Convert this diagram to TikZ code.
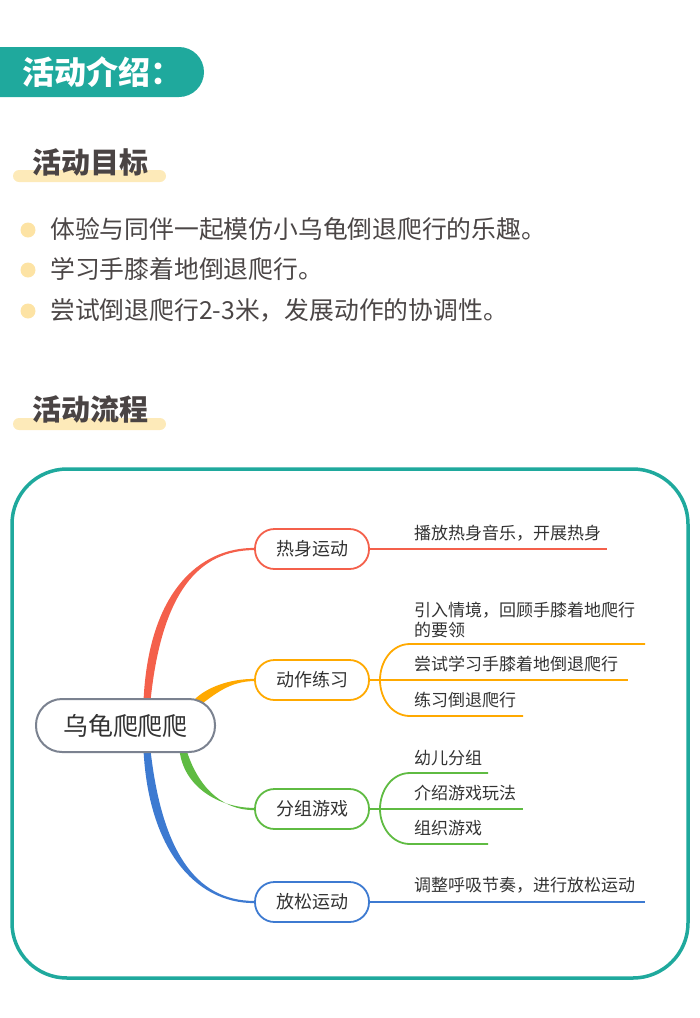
\documentclass[tikz,border=0pt]{standalone}
\usepackage{fontspec}
\setmainfont{Noto Sans CJK SC}
\usetikzlibrary{calc}
\definecolor{tealc}{HTML}{1FA99D}
\definecolor{barc}{HTML}{FDEAB9}
\definecolor{dotc}{HTML}{FDE3A4}
\definecolor{headc}{HTML}{4A4444}
\definecolor{bodyc}{HTML}{4B4646}
\definecolor{txtc}{HTML}{333333}
\definecolor{rootc}{HTML}{7B8290}
\definecolor{cred}{HTML}{F4604B}
\definecolor{corange}{HTML}{FFA900}
\definecolor{cgreen}{HTML}{5FBB42}
\definecolor{cblue}{HTML}{3D7AD1}
\pgfdeclarelayer{bg}
\pgfsetlayers{bg,main}
\tikzset{
  branchbox/.style={draw, line width=1.8pt, rounded corners=19.5pt, minimum width=114pt, minimum height=40pt, fill=white, font=\fontsize{18}{20}\selectfont, text=txtc, inner sep=0pt},
  subtext/.style={anchor=west, inner sep=0pt, font=\fontsize{17}{21}\selectfont, text=txtc, align=left},
  subline/.style={line width=1.8pt},
  bullettext/.style={anchor=west, inner sep=0pt, font=\fontsize{24.8}{26}\selectfont, text=bodyc},
  headtext/.style={anchor=west, inner sep=0pt, font=\fontsize{29}{30}\selectfont\bfseries, text=headc},
}
\begin{document}
\begin{tikzpicture}[x=1pt,y=-1pt]
\useasboundingbox (0,0) rectangle (700,1018);
% title banner
\fill[tealc, rounded corners=25pt] (-40,47) rectangle (204,97);
\node[anchor=west, inner sep=0pt, text=white, font=\fontsize{32}{34}\selectfont\bfseries] (title) at (22,72) {活动介绍：};
% section 1
\fill[barc, rounded corners=6pt] (13,170) rectangle (166,182);
\node[headtext] (h1) at (32,162) {活动目标};
\fill[dotc] (28,230) circle (7.5);
\fill[dotc] (28,270) circle (7.5);
\fill[dotc] (28,311) circle (7.5);
\node[bullettext] (b1) at (50,229) {体验与同伴一起模仿小乌龟倒退爬行的乐趣。};
\node[bullettext] (b2) at (50,269) {学习手膝着地倒退爬行。};
\node[bullettext] (b3) at (50,310) {尝试倒退爬行2-3米，发展动作的协调性。};
% section 2
\fill[barc, rounded corners=6pt] (13,418) rectangle (166,430);
\node[headtext] (h2) at (32,409) {活动流程};
% frame
\draw[tealc, line width=3.5pt, rounded corners=55pt] (12,469) rectangle (688,978);
% nodes
\node[draw=rootc, line width=2pt, rounded corners=26pt, minimum width=179pt, minimum height=53pt, fill=white, inner sep=0pt, font=\fontsize{25}{27}\selectfont, text=txtc] (root) at (125.5,725.5) {乌龟爬爬爬};
\node[branchbox, draw=cred] (warm) at (312,549) {热身运动};
\node[branchbox, draw=corange] (act) at (312,680) {动作练习};
\node[branchbox, draw=cgreen] (play) at (312,809) {分组游戏};
\node[branchbox, draw=cblue] (relax) at (312,902) {放松运动};
% main curves (tapered)
\begin{pgfonlayer}{bg}
\fill[cred] ($(root.north)+(18,3)$) .. controls +(5,-109) and +(-55,0) .. ($(warm.west)+(0,-1.1)$) -- ($(warm.west)+(0,1.1)$) .. controls +(-55,0) and +(11,-109) .. ($(root.north)+(25,3)$) -- cycle;
\fill[cblue] ($(root.south)+(18,-3)$) .. controls +(5,98) and +(-60,0) .. ($(relax.west)+(0,1.1)$) -- ($(relax.west)+(0,-1.1)$) .. controls +(-60,0) and +(11,98) .. ($(root.south)+(25,-3)$) -- cycle;
\fill[corange] ($(root.center)+(69,-26)$) .. controls +(12,-12) and +(-25,0) .. ($(act.west)+(0,-1.1)$) -- ($(act.west)+(0,1.1)$) .. controls +(-25,0) and +(14,-10) .. ($(root.center)+(74,-20)$) -- cycle;
\fill[cgreen] ($(root.south)+(54,-3)$) .. controls +(4,37) and +(-35,0) .. ($(play.west)+(0,-1.1)$) -- ($(play.west)+(0,1.1)$) .. controls +(-35,0) and +(10,33) .. ($(root.south)+(61,-3)$) -- cycle;
\end{pgfonlayer}
% red sub-branch
\coordinate (r1) at (607,549);
\draw[cred, subline] (warm.east) -- (r1);
\node[subtext] (t1) at (414,533) {播放热身音乐，开展热身};
% orange fork
\coordinate (of) at (380,680);
\coordinate (o1s) at (410,644);
\coordinate (o1e) at (645,644);
\coordinate (o2e) at (628,680);
\coordinate (o3s) at (410,716);
\coordinate (o3e) at (523,716);
\draw[corange, subline] (act.east) -- (of);
\draw[corange, subline] (of) to[out=90,in=180] (o1s) -- (o1e);
\draw[corange, subline] (of) -- (o2e);
\draw[corange, subline] (of) to[out=-90,in=180] (o3s) -- (o3e);
\node[subtext] (t2) at (414,620) {引入情境，回顾手膝着地爬行\\[-1pt]的要领};
\node[subtext] (t3) at (414,664) {尝试学习手膝着地倒退爬行};
\node[subtext] (t4) at (414,700) {练习倒退爬行};
% green fork
\coordinate (gf) at (380,809);
\coordinate (g1s) at (410,773);
\coordinate (g1e) at (488,773);
\coordinate (g2e) at (523,809);
\coordinate (g3s) at (410,844);
\coordinate (g3e) at (488,844);
\draw[cgreen, subline] (play.east) -- (gf);
\draw[cgreen, subline] (gf) to[out=90,in=180] (g1s) -- (g1e);
\draw[cgreen, subline] (gf) -- (g2e);
\draw[cgreen, subline] (gf) to[out=-90,in=180] (g3s) -- (g3e);
\node[subtext] (t5) at (414,758) {幼儿分组};
\node[subtext] (t6) at (414,793) {介绍游戏玩法};
\node[subtext] (t7) at (414,828) {组织游戏};
% blue sub-branch
\coordinate (b1e) at (645,902);
\draw[cblue, subline] (relax.east) -- (b1e);
\node[subtext] (t8) at (414,885) {调整呼吸节奏，进行放松运动};
\end{tikzpicture}
\end{document}
